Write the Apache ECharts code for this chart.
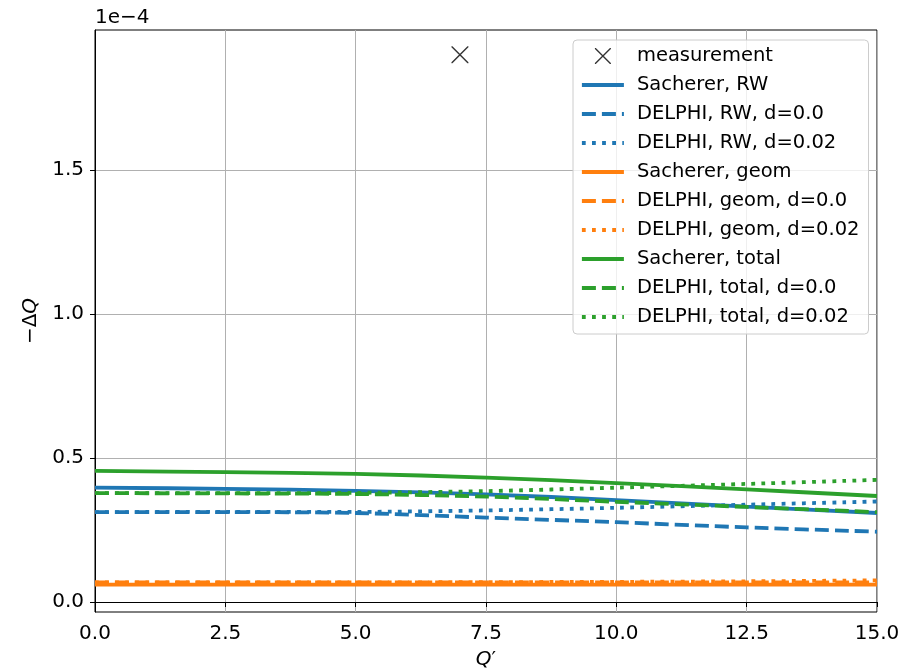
<!DOCTYPE html>
<html><head><meta charset="utf-8">
<script src="https://cdn.jsdelivr.net/npm/echarts@6/dist/echarts.min.js"></script>
<style>html,body{margin:0;padding:0;background:#fff}#c{width:914px;height:669px}</style>
</head><body><div id="c"></div>
<script>
// values in units of 1e-4
const qPrime = [0, 2.5, 5, 7.5, 10, 12.5, 15];
const measurementQ = [7.0];
const measurementDQ = [1.90];
const sachererRW      = [0.397, 0.393, 0.386, 0.374, 0.354, 0.331, 0.309];
const delphiRW_d0     = [0.312, 0.312, 0.309, 0.293, 0.277, 0.259, 0.244];
const delphiRW_d002   = [0.312, 0.313, 0.313, 0.318, 0.327, 0.338, 0.349];
const sachererGeom    = [0.060, 0.060, 0.060, 0.060, 0.060, 0.060, 0.060];
const delphiGeom_d0   = [0.068, 0.068, 0.068, 0.068, 0.068, 0.068, 0.068];
const delphiGeom_d002 = [0.068, 0.068, 0.068, 0.069, 0.070, 0.072, 0.075];
const sachererTotal   = [0.455, 0.451, 0.445, 0.432, 0.413, 0.391, 0.368];
const delphiTotal_d0  = [0.378, 0.377, 0.375, 0.366, 0.348, 0.330, 0.312];
const delphiTotal_d002= [0.378, 0.378, 0.379, 0.385, 0.397, 0.410, 0.424];
const xTickValues = [0, 2.5, 5, 7.5, 10, 12.5, 15];
const yTickValues = [0, 0.5, 1.0, 1.5];
const offsetText = '1e\u22124';

const BLUE = '#1f77b4', ORANGE = '#ff7f0e', GREEN = '#2ca02c';
const LW = 3.8;
const DASH = [14, 6];
const DOT = [3.8, 6.3];
const FONT = 'DejaVu Sans';

function pairs(vals) { return qPrime.map((q, i) => [q, vals[i]]); }
function lineSeries(name, vals, color, type) {
  return {
    name, type: 'line', data: pairs(vals), symbol: 'none', smooth: 0.3,
    lineStyle: { color, width: LW, type, cap: 'butt' },
    itemStyle: { color },
    emphasis: { disabled: true }, animation: false, clip: true
  };
}
const xPath = 'path://M0,0L0.6,0L10,9.4L10,10L9.4,10L0,0.6Z M9.4,0L10,0L10,0.6L0.6,10L0,10L0,9.4Z';

const series = [
  { name: 'measurement', type: 'scatter', data: measurementQ.map((q, i) => [q, measurementDQ[i]]),
    symbol: xPath, symbolSize: 17, itemStyle: { color: '#000' }, animation: false },
  lineSeries('Sacherer, RW', sachererRW, BLUE, 'solid'),
  lineSeries('DELPHI, RW, d=0.0', delphiRW_d0, BLUE, DASH),
  lineSeries('DELPHI, RW, d=0.02', delphiRW_d002, BLUE, DOT),
  lineSeries('Sacherer, geom', sachererGeom, ORANGE, 'solid'),
  lineSeries('DELPHI, geom, d=0.0', delphiGeom_d0, ORANGE, DASH),
  lineSeries('DELPHI, geom, d=0.02', delphiGeom_d002, ORANGE, DOT),
  lineSeries('Sacherer, total', sachererTotal, GREEN, 'solid'),
  lineSeries('DELPHI, total, d=0.0', delphiTotal_d0, GREEN, DASH),
  lineSeries('DELPHI, total, d=0.02', delphiTotal_d002, GREEN, DOT)
];

const legendData = series.map(s => s.type === 'line'
  ? { name: s.name, itemStyle: { color: 'rgba(0,0,0,0)', borderWidth: 0, opacity: 0 },
      lineStyle: { width: LW, color: s.lineStyle.color, type: s.lineStyle.type, cap: 'butt' } }
  : { name: s.name });

const chart = echarts.init(document.getElementById('c'), null, { renderer: 'canvas' });
chart.setOption({
  animation: false,
  backgroundColor: '#fff',
  grid: { left: 95, right: 37, top: 30, bottom: 57, containLabel: false, outerBoundsMode: 'none',
          show: true, borderColor: '#000', borderWidth: 1, backgroundColor: 'transparent' },
  xAxis: {
    type: 'value', min: 0, max: 15, interval: 2.5,
    name: '{q|Q}{p|\u2032}', nameLocation: 'middle', nameGap: 38,
    nameTextStyle: { rich: { q: { fontFamily: FONT, fontSize: 20, fontStyle: 'italic', color: '#000' }, p: { fontFamily: FONT, fontSize: 20, color: '#000' } } },
    axisLine: { show: true, lineStyle: { color: '#000', width: 1 } },
    axisTick: { show: true, length: 5, lineStyle: { color: '#000', width: 1 } },
    axisLabel: { color: '#000', fontFamily: FONT, fontSize: 20, margin: 12, formatter: v => v.toFixed(1), showMaxLabel: true, showMinLabel: true },
    splitLine: { show: true, lineStyle: { color: '#b0b0b0', width: 1 } }
  },
  yAxis: {
    type: 'value', min: -0.0347, max: 1.986,
    name: '{m|\u2212\u0394}{q|Q}', nameLocation: 'middle', nameGap: 50, nameRotate: 90,
    nameTextStyle: { rich: { m: { fontFamily: FONT, fontSize: 20, color: '#000' }, q: { fontFamily: FONT, fontSize: 20, fontStyle: 'italic', color: '#000' } } },
    axisLine: { show: true, lineStyle: { color: '#000', width: 1 } },
    axisTick: { show: true, length: 5, lineStyle: { color: '#000', width: 1 }, customValues: yTickValues },
    axisLabel: { color: '#000', fontFamily: FONT, fontSize: 20, margin: 11, customValues: yTickValues, formatter: v => v.toFixed(1) },
    splitLine: { show: true, lineStyle: { color: '#b0b0b0', width: 1 } }
  },
  legend: {
    orient: 'vertical', left: 573, top: 40,
    data: legendData,
    itemWidth: 42, itemHeight: 16, itemGap: 9,
    padding: [6, 9, 7, 7],
    backgroundColor: 'rgba(255,255,255,0.8)', borderColor: '#cccccc', borderWidth: 1, borderRadius: 4,
    textStyle: { fontFamily: FONT, fontSize: 19.5, color: '#000', padding: [0, 0, 0, 8] },
    selectedMode: false
  },
  graphic: [
    { type: 'text', left: 95, top: 8, style: { text: offsetText, fontFamily: FONT, fontSize: 20, fill: '#000' } }
  ],
  series
});
</script></body></html>
